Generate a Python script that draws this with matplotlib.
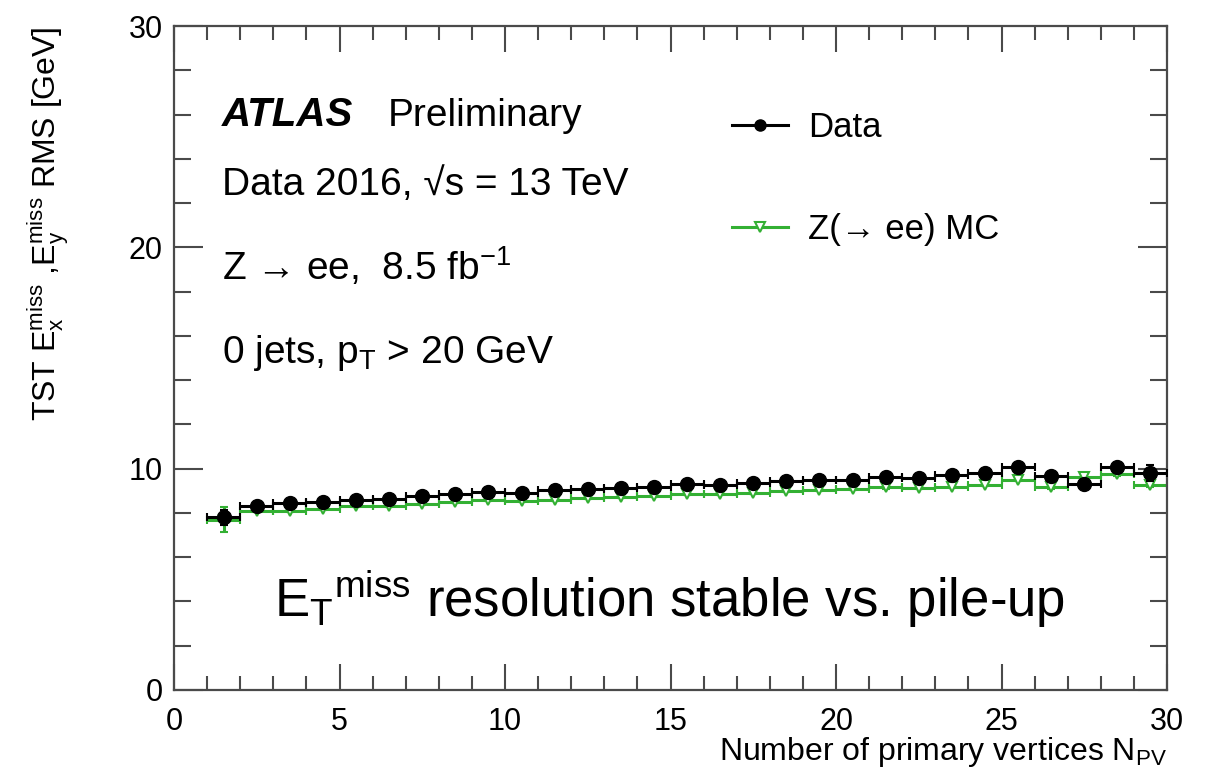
import matplotlib.pyplot as plt
from matplotlib.lines import Line2D
from matplotlib.ticker import MultipleLocator

plt.rcParams['font.family'] = ['Liberation Sans', 'DejaVu Sans']
plt.rcParams['mathtext.fontset'] = 'custom'
plt.rcParams['mathtext.rm'] = 'Liberation Sans'
plt.rcParams['mathtext.it'] = 'Liberation Sans:italic'
plt.rcParams['mathtext.bf'] = 'Liberation Sans:bold'
plt.rcParams['mathtext.default'] = 'regular'

# bin centres in N_PV
npv = [1.5, 2.5, 3.5, 4.5, 5.5, 6.5, 7.5, 8.5, 9.5, 10.5,
       11.5, 12.5, 13.5, 14.5, 15.5, 16.5, 17.5, 18.5, 19.5, 20.5,
       21.5, 22.5, 23.5, 24.5, 25.5, 26.5, 27.5, 28.5, 29.5]

data_rms = [7.80, 8.30, 8.44, 8.50, 8.60, 8.62, 8.75, 8.84, 8.93, 8.90,
            9.05, 9.10, 9.12, 9.15, 9.30, 9.28, 9.35, 9.42, 9.47, 9.47,
            9.64, 9.59, 9.73, 9.80, 10.07, 9.65, 9.32, 10.06, 9.80]
data_err = [0.35, 0.08, 0.06, 0.05, 0.05, 0.05, 0.05, 0.05, 0.05, 0.05,
            0.05, 0.05, 0.05, 0.05, 0.05, 0.05, 0.05, 0.06, 0.06, 0.06,
            0.07, 0.08, 0.09, 0.10, 0.12, 0.14, 0.16, 0.20, 0.35]

mc_rms = [7.70, 8.10, 8.10, 8.16, 8.33, 8.33, 8.42, 8.48, 8.57, 8.52,
          8.60, 8.66, 8.72, 8.78, 8.84, 8.87, 8.90, 8.97, 9.02, 9.07,
          9.15, 9.13, 9.18, 9.28, 9.50, 9.15, 9.62, 9.77, 9.28]
mc_err = [0.55, 0.05, 0.04, 0.04, 0.04, 0.04, 0.04, 0.04, 0.04, 0.04,
          0.04, 0.04, 0.04, 0.04, 0.04, 0.04, 0.04, 0.04, 0.05, 0.05,
          0.05, 0.05, 0.06, 0.06, 0.07, 0.08, 0.09, 0.10, 0.12]

green = '#33b033'
frame = '#4a4a4a'

fig = plt.figure(figsize=(12.05, 7.77), dpi=100)
ax = fig.add_axes([0.1444, 0.112, 0.8241, 0.8545])

ax.errorbar(npv, mc_rms, xerr=0.5, yerr=mc_err, fmt='v', color=green,
            mfc='white', mec=green, mew=1.5, ms=7, elinewidth=2.2,
            capsize=3, capthick=1.5, zorder=2)
ax.errorbar(npv, data_rms, xerr=0.5, yerr=data_err, fmt='o', color='black',
            ms=10, elinewidth=2.2, capsize=3, capthick=1.5, zorder=3)

ax.set_xlim(0, 30)
ax.set_ylim(0, 30)
ax.xaxis.set_major_locator(MultipleLocator(5))
ax.xaxis.set_minor_locator(MultipleLocator(1))
ax.yaxis.set_major_locator(MultipleLocator(10))
ax.yaxis.set_minor_locator(MultipleLocator(2))
ax.tick_params(which='both', direction='in', top=True, right=True,
               color=frame, width=1.5, labelsize=22)
ax.tick_params(axis='x', which='major', length=19, pad=12)
ax.tick_params(axis='x', which='minor', length=10)
ax.tick_params(axis='y', which='major', length=21, pad=8)
ax.tick_params(axis='y', which='minor', length=12)
for s in ax.spines.values():
    s.set_color(frame)
    s.set_linewidth(1.6)

ax.set_xlabel('Number of primary vertices N$_{PV}$', fontsize=23, loc='right')
ax.xaxis.set_label_coords(1.0, -0.068)
ax.set_ylabel('TST E$_{x}^{miss}$ ,E$_{y}^{miss}$ RMS [GeV]', fontsize=23, loc='top')
ax.yaxis.set_label_coords(-0.104, 1.0)

tx = 0.0483
ax.text(tx, 0.849, 'ATLAS', transform=ax.transAxes, fontsize=29,
        fontweight='bold', fontstyle='italic', va='baseline')
ax.text(0.2155, 0.849, 'Preliminary', transform=ax.transAxes, fontsize=28,
        va='baseline')
ax.text(tx, 0.7455, 'Data 2016, \u221as = 13 TeV', transform=ax.transAxes,
        fontsize=28, va='baseline')
ax.text(tx, 0.6175, 'Z \u2192 ee,  8.5 fb$^{-1}$', transform=ax.transAxes,
        fontsize=28, va='baseline')
ax.text(tx, 0.4925, '0 jets, p$_{T}$ > 20 GeV', transform=ax.transAxes,
        fontsize=28, va='baseline')

ax.text(0.4985, 0.11, 'E$_{T}$$^{miss}$ resolution stable vs. pile-up',
        transform=ax.transAxes, fontsize=38, ha='center', va='baseline')

handles = [
    Line2D([], [], color='black', marker='o', ms=8, lw=2.2),
    Line2D([], [], color=green, marker='v', ms=7, mfc='white', mec=green,
           mew=1.5, lw=2.2),
]
ax.legend(handles, ['Data', 'Z(\u2192 ee) MC'], loc='upper left',
          bbox_to_anchor=(0.562, 0.872), frameon=False, fontsize=25,
          handlelength=1.6, handletextpad=0.6, labelspacing=2.0,
          borderpad=0, borderaxespad=0)

fig.savefig('out.png', dpi=100)
